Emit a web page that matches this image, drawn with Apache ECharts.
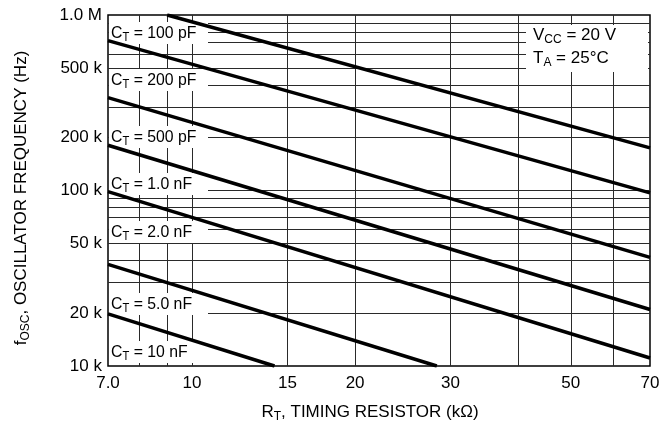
<!DOCTYPE html>
<html>
<head>
<meta charset="utf-8">
<script src="https://cdn.jsdelivr.net/npm/echarts@6/dist/echarts.min.js"></script>
<style>html,body{margin:0;padding:0;background:#fff}#c{width:660px;height:437px}</style>
</head>
<body>
<div id="c"></div>
<script>
// ---- data (R_T in kOhm, f_OSC in Hz) ----
const capLabels = ['100 pF', '200 pF', '500 pF', '1.0 nF', '2.0 nF', '5.0 nF', '10 nF'];
const ct100p = [[9.0, 1000000], [70, 175000]];
const ct200p = [[7.0, 714000], [70, 97000]];
const ct500p = [[7.0, 338000], [70, 41600]];
const ct1n0 = [[7.0, 181000], [70, 21000]];
const ct2n0 = [[7.0, 98500], [70, 11100]];
const ct5n0 = [[7.0, 37900], [28.3, 10000]];
const ct10n = [[7.0, 19800], [14.2, 10000]];

const xTickValues = [7, 10, 15, 20, 30, 50, 70];
const xTickLabels = ['7.0', '10', '15', '20', '30', '50', '70'];
const yTickValues = [10000, 20000, 50000, 100000, 200000, 500000, 1000000];
const yTickLabels = ['10 k', '20 k', '50 k', '100 k', '200 k', '500 k', '1.0 M'];
const xGridValues = [8, 9, 10, 15, 20, 30, 40, 50, 60];
const yGridValues = [20000, 30000, 40000, 50000, 60000, 70000, 80000, 90000,
  100000, 200000, 300000, 400000, 500000, 600000, 700000, 800000, 900000];

const FONT = "'Liberation Sans', Arial, Helvetica, sans-serif";
const curves = [ct100p, ct200p, ct500p, ct1n0, ct2n0, ct5n0, ct10n];

const chart = echarts.init(document.getElementById('c'), null, {renderer: 'canvas'});

const rich = {
  m: {fontSize: 17, fontFamily: FONT, lineHeight: 22, color: '#000'},
  s: {fontSize: 12, fontFamily: FONT, lineHeight: 12, verticalAlign: 'bottom', color: '#000'}
};

const labelCenters = [33, 80, 137, 184, 232, 304, 352];
const graphics = [];
capLabels.forEach((lab, i) => {
  const c = labelCenters[i];
  graphics.push({type: 'rect', z: 5, shape: {x: 109, y: c - 11, width: 99, height: 22}, style: {fill: '#fff'}});
  graphics.push({type: 'text', z: 6, x: 111, y: c, scaleX: 0.93, style: {text: '{m|C}{s|T}{m| = ' + lab + '}', rich: rich, verticalAlign: 'middle', align: 'left', fill: '#000'}});
});
graphics.push({type: 'rect', z: 5, shape: {x: 526, y: 25, width: 122, height: 47}, style: {fill: '#fff'}});
graphics.push({type: 'text', z: 6, x: 533, y: 35, style: {text: '{m|V}{s|CC}{m| = 20 V}', rich: rich, verticalAlign: 'middle', align: 'left'}});
graphics.push({type: 'text', z: 6, x: 533, y: 58, style: {text: '{m|T}{s|A}{m| = 25°C}', rich: rich, verticalAlign: 'middle', align: 'left'}});
graphics.push({type: 'text', z: 6, x: 370, y: 412, style: {text: '{m|R}{s|T}{m|, TIMING RESISTOR (kΩ)}', rich: rich, verticalAlign: 'middle', align: 'center'}});
graphics.push({type: 'text', z: 6, x: 21, y: 198, rotation: Math.PI / 2, style: {text: '{m|f}{s|OSC}{m|, OSCILLATOR FREQUENCY (Hz)}', rich: rich, verticalAlign: 'middle', align: 'center'}});

const series = [];
// grid lines drawn through axis scales
series.push({
  type: 'line', data: [], silent: true,
  markLine: {
    silent: true, symbol: 'none', z: 1, animation: false,
    lineStyle: {color: '#2a2a2a', width: 1, type: 'solid'},
    label: {show: false},
    emphasis: {disabled: true},
    data: xGridValues.map(v => ({xAxis: v})).concat(yGridValues.map(v => ({yAxis: v})))
  }
});
// x tick labels
series.push({
  type: 'line', data: [], silent: true,
  markLine: {
    silent: true, symbol: 'none', z: 1, animation: false,
    lineStyle: {color: 'rgba(0,0,0,0)', width: 0},
    emphasis: {disabled: true},
    label: {show: true, position: 'start', distance: 9, fontSize: 17, fontFamily: FONT, color: '#000'},
    data: xTickValues.map((v, i) => ({xAxis: v, label: {formatter: xTickLabels[i]}}))
  }
});
// y tick labels
series.push({
  type: 'line', data: [], silent: true,
  markLine: {
    silent: true, symbol: 'none', z: 1, animation: false,
    lineStyle: {color: 'rgba(0,0,0,0)', width: 0},
    emphasis: {disabled: true},
    label: {show: true, position: 'start', distance: 6, fontSize: 17, fontFamily: FONT, color: '#000'},
    data: yTickValues.map((v, i) => ({yAxis: v, label: {formatter: yTickLabels[i]}}))
  }
});
curves.forEach((d, i) => {
  series.push({
    name: 'CT = ' + capLabels[i], type: 'line', data: d, z: 10,
    showSymbol: false, symbol: 'none', animation: false, silent: true,
    lineStyle: {color: '#000', width: 3.5}
  });
});

chart.setOption({
  animation: false,
  backgroundColor: '#fff',
  grid: {left: 108, right: 10, top: 15, bottom: 71, show: true, borderColor: '#000', borderWidth: 1.5, backgroundColor: 'transparent', outerBoundsMode: 'none'},
  xAxis: {type: 'log', logBase: 10, min: 7, max: 70, axisLine: {show: false}, axisTick: {show: false}, axisLabel: {show: false}, splitLine: {show: false}, minorTick: {show: false}, minorSplitLine: {show: false}},
  yAxis: {type: 'log', logBase: 10, min: 10000, max: 1000000, axisLine: {show: false}, axisTick: {show: false}, axisLabel: {show: false}, splitLine: {show: false}, minorTick: {show: false}, minorSplitLine: {show: false}},
  series: series,
  graphic: {elements: graphics}
});
</script>
</body>
</html>
